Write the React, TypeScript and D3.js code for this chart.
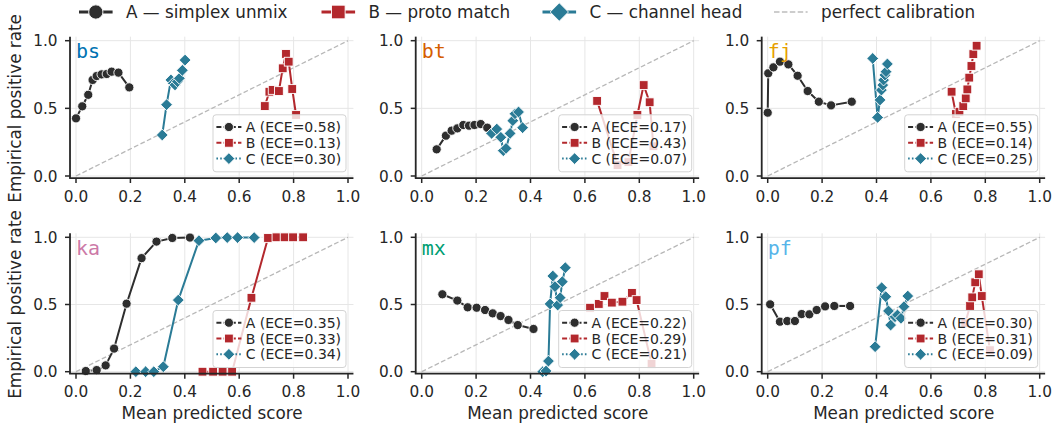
import React from "react";
import * as d3 from "d3";

// ---------- data ----------
const panelNames = ["bs", "bt", "fj", "ka", "mx", "pf"];
const panelColors = ["#0072B2", "#D55E00", "#E69F00", "#CC79A7", "#009E73", "#56B4E9"];
const seriesNames = ["A", "B", "C"];
const seriesLegend = ["A — simplex unmix", "B — proto match", "C — channel head"];
const xTicks = [0, 0.2, 0.4, 0.6, 0.8, 1.0];
const yTicks = [0, 0.5, 1.0];

// bs
const bsAx = [0.0, 0.023, 0.045, 0.061, 0.076, 0.094, 0.113, 0.131, 0.156, 0.196];
const bsAy = [0.426, 0.515, 0.6, 0.71, 0.739, 0.751, 0.754, 0.771, 0.764, 0.655];
const bsBx = [0.694, 0.711, 0.723, 0.746, 0.76, 0.772, 0.782, 0.795, 0.809];
const bsBy = [0.517, 0.623, 0.636, 0.628, 0.796, 0.902, 0.845, 0.643, 0.451];
const bsCx = [0.317, 0.333, 0.349, 0.358, 0.364, 0.373, 0.38, 0.391, 0.401];
const bsCy = [0.303, 0.527, 0.71, 0.685, 0.673, 0.697, 0.722, 0.781, 0.857];
const bsECE = [0.58, 0.13, 0.3];

// bt
const btAx = [0.055, 0.089, 0.11, 0.131, 0.153, 0.174, 0.194, 0.217, 0.241];
const btAy = [0.197, 0.298, 0.335, 0.352, 0.377, 0.372, 0.377, 0.384, 0.357];
const btBx = [0.645, 0.72, 0.76, 0.793, 0.816, 0.838, 0.852];
const btBy = [0.555, 0.081, 0.103, 0.451, 0.672, 0.545, 0.22];
const btCx = [0.257, 0.276, 0.291, 0.3, 0.31, 0.325, 0.335, 0.343, 0.356, 0.371];
const btCy = [0.315, 0.347, 0.286, 0.187, 0.204, 0.315, 0.409, 0.46, 0.473, 0.357];
const btECE = [0.17, 0.43, 0.07];

// fj
const fjAx = [0.0, 0.002, 0.021, 0.045, 0.076, 0.11, 0.147, 0.188, 0.233, 0.309];
const fjAy = [0.468, 0.759, 0.803, 0.845, 0.825, 0.741, 0.628, 0.549, 0.522, 0.549];
const fjBx = [0.676, 0.692, 0.705, 0.719, 0.728, 0.734, 0.741, 0.749, 0.756, 0.768];
const fjBy = [0.623, 0.458, 0.475, 0.517, 0.574, 0.64, 0.727, 0.813, 0.901, 0.963];
const fjCx = [0.386, 0.404, 0.413, 0.418, 0.423, 0.426, 0.431, 0.435, 0.44];
const fjCy = [0.869, 0.433, 0.562, 0.635, 0.672, 0.709, 0.746, 0.771, 0.828];
const fjECE = [0.55, 0.14, 0.25];

// ka
const kaAx = [0.036, 0.076, 0.109, 0.14, 0.186, 0.241, 0.296, 0.354, 0.419];
const kaAy = [0.005, 0.012, 0.047, 0.172, 0.506, 0.845, 0.968, 0.995, 0.998];
const kaBx = [0.465, 0.504, 0.539, 0.574, 0.645, 0.706, 0.737, 0.767, 0.798, 0.835];
const kaBy = [0.0, 0.0, 0.0, 0.0, 0.55, 0.995, 1.0, 1.0, 1.0, 1.0];
const kaCx = [0.22, 0.256, 0.286, 0.321, 0.376, 0.452, 0.514, 0.556, 0.594, 0.655];
const kaCy = [0.0, 0.0, 0.0, 0.037, 0.533, 0.975, 0.995, 0.998, 0.998, 0.998];
const kaECE = [0.35, 0.33, 0.34];

// mx
const mxAx = [0.076, 0.131, 0.169, 0.202, 0.233, 0.261, 0.29, 0.319, 0.353, 0.411];
const mxAy = [0.576, 0.529, 0.479, 0.476, 0.459, 0.434, 0.414, 0.385, 0.347, 0.318];
const mxBx = [0.619, 0.651, 0.672, 0.699, 0.738, 0.773, 0.79, 0.845];
const mxBy = [0.476, 0.504, 0.563, 0.514, 0.521, 0.586, 0.533, 0.06];
const mxCx = [0.445, 0.457, 0.466, 0.472, 0.482, 0.49, 0.5, 0.509, 0.517, 0.528];
const mxCy = [0.0, 0.005, 0.079, 0.504, 0.712, 0.633, 0.496, 0.551, 0.67, 0.774];
const mxECE = [0.22, 0.29, 0.21];

// pf
const pfAx = [0.009, 0.045, 0.072, 0.1, 0.125, 0.153, 0.18, 0.211, 0.245, 0.303];
const pfAy = [0.501, 0.372, 0.377, 0.377, 0.429, 0.427, 0.459, 0.486, 0.489, 0.489];
const pfBx = [0.726, 0.744, 0.752, 0.763, 0.776, 0.787, 0.817];
const pfBy = [0.36, 0.489, 0.553, 0.665, 0.725, 0.563, 0.16];
const pfCx = [0.395, 0.419, 0.434, 0.444, 0.452, 0.468, 0.477, 0.49, 0.501, 0.515];
const pfCy = [0.186, 0.625, 0.558, 0.452, 0.347, 0.409, 0.422, 0.397, 0.484, 0.563];
const pfECE = [0.3, 0.31, 0.09];

// ---------- assembled table ----------
const zip = (xs: number[], ys: number[]) => xs.map((x, i) => [x, ys[i]] as [number, number]);
const panelData = [
  { A: zip(bsAx, bsAy), B: zip(bsBx, bsBy), C: zip(bsCx, bsCy), ece: bsECE },
  { A: zip(btAx, btAy), B: zip(btBx, btBy), C: zip(btCx, btCy), ece: btECE },
  { A: zip(fjAx, fjAy), B: zip(fjBx, fjBy), C: zip(fjCx, fjCy), ece: fjECE },
  { A: zip(kaAx, kaAy), B: zip(kaBx, kaBy), C: zip(kaCx, kaCy), ece: kaECE },
  { A: zip(mxAx, mxAy), B: zip(mxBx, mxBy), C: zip(mxCx, mxCy), ece: mxECE },
  { A: zip(pfAx, pfAy), B: zip(pfBx, pfBy), C: zip(pfCx, pfCy), ece: pfECE },
];

// ---------- styles / layout ----------
const W = 1056;
const H = 429;
const FONT = "'DejaVu Sans', sans-serif";
const MONO = "'DejaVu Sans Mono', monospace";
const COLORS: Record<string, string> = { A: "#2e2e2e", B: "#b3282d", C: "#2a7b96" };
const TEXT = "#262626";
const COL_X0 = [76, 421.7, 767.7];
const UNIT_X = 272;
const ROW_Y0 = [176, 371.7];
const ROW_UNIT = [135.3, 134.4];
const XMIN = -0.022, XMAX = 1.02, YMIN = -0.015, YMAX = 1.03;

function Marker({ kind, x, y, color, scale = 1 }: { kind: string; x: number; y: number; color: string; scale?: number }) {
  const sw = 0.9;
  if (kind === "A") return <circle cx={x} cy={y} r={4.6 * scale} fill={color} stroke="#fff" strokeWidth={sw} />;
  if (kind === "B") {
    const s = 8.8 * scale;
    return <rect x={x - s / 2} y={y - s / 2} width={s} height={s} fill={color} stroke="#fff" strokeWidth={sw} />;
  }
  const h = 5.9 * scale;
  return (
    <path d={`M${x},${y - h}L${x + h},${y}L${x},${y + h}L${x - h},${y}Z`} fill={color} stroke="#fff" strokeWidth={sw} />
  );
}

function Panel({ idx }: { idx: number }) {
  const col = idx % 3;
  const row = Math.floor(idx / 3);
  const d = panelData[idx];
  const x = d3.scaleLinear().domain([0, 1]).range([COL_X0[col], COL_X0[col] + UNIT_X]);
  const y = d3.scaleLinear().domain([0, 1]).range([ROW_Y0[row], ROW_Y0[row] - ROW_UNIT[row]]);
  const xl = x(XMIN), xr = x(XMAX), yb = y(YMIN), yt = y(YMAX);
  const line = d3
    .line<[number, number]>()
    .x((p) => x(p[0]))
    .y((p) => y(p[1]));
  const legW = 133, legH = 57;
  const legR = x(0) + 270;
  const legB = y(0) - 4.2;
  const legL = legR - legW;
  const legT = legB - legH;
  const legMid = legT + legH / 2 - 0.5;
  const dashes: Record<string, string> = { A: "5,2.2", B: "5,2.2", C: "1.6,2.2" };
  return (
    <g>
      {xTicks.map((t) => (
        <line key={"gx" + t} x1={x(t)} x2={x(t)} y1={yt} y2={yb} stroke="#e6e6e6" strokeWidth={1} />
      ))}
      {yTicks.map((t) => (
        <line key={"gy" + t} x1={xl} x2={xr} y1={y(t)} y2={y(t)} stroke="#e6e6e6" strokeWidth={1} />
      ))}
      <line x1={x(0)} y1={y(0)} x2={x(1)} y2={y(1)} stroke="#b8b8b8" strokeWidth={1.3} strokeDasharray="4.8,2.4" />
      {seriesNames.map((s) => {
        const pts = (d as any)[s] as [number, number][];
        return (
          <g key={s}>
            <path d={line(pts) || ""} fill="none" stroke={COLORS[s]} strokeWidth={2} strokeLinejoin="round" />
            {pts.map((p, i) => (
              <Marker key={i} kind={s} x={x(p[0])} y={y(p[1])} color={COLORS[s]} />
            ))}
          </g>
        );
      })}
      <line x1={xl} x2={xl} y1={yt} y2={yb} stroke={TEXT} strokeWidth={1.8} />
      <line x1={xl - 0.9} x2={xr} y1={yb} y2={yb} stroke={TEXT} strokeWidth={1.8} />
      {xTicks.map((t) => (
        <g key={"tx" + t}>
          <line x1={x(t)} x2={x(t)} y1={yb} y2={yb + 5} stroke={TEXT} strokeWidth={1.5} />
          <text x={x(t)} y={y(0) + 25.5} textAnchor="middle" fontSize={15.3} fill={TEXT} fontFamily={FONT}>
            {t.toFixed(1)}
          </text>
        </g>
      ))}
      {yTicks.map((t) => (
        <g key={"ty" + t}>
          <line x1={xl - 5} x2={xl} y1={y(t)} y2={y(t)} stroke={TEXT} strokeWidth={1.5} />
          <text x={xl - 12.5} y={y(t)} dy="0.36em" textAnchor="end" fontSize={15.3} fill={TEXT} fontFamily={FONT}>
            {t.toFixed(1)}
          </text>
        </g>
      ))}
      <text x={x(0)} y={yt + 21.7} fontSize={20} fill={panelColors[idx]} fontFamily={MONO}>
        {panelNames[idx]}
      </text>
      <rect x={legL} y={legT} width={legW} height={legH} rx={3} fill="#fff" fillOpacity={0.8} stroke="#d3d3d3" strokeWidth={1} />
      {seriesNames.map((s, i) => {
        const cy = legMid + (i - 1) * 15.8;
        return (
          <g key={"lg" + s}>
            <line x1={legL + 3.4} x2={legL + 28.4} y1={cy} y2={cy} stroke={COLORS[s]} strokeWidth={2} strokeDasharray={dashes[s]} />
            <Marker kind={s} x={legL + 15.9} y={cy} color={COLORS[s]} />
            <text x={legL + 32.7} y={cy} dy="0.36em" fontSize={14} fill={TEXT} fontFamily={FONT}>
              {`${s} (ECE=${d.ece[i].toFixed(2)})`}
            </text>
          </g>
        );
      })}
      {row === 1 && (
        <text x={x(0.5)} y={419} textAnchor="middle" fontSize={16.8} fill={TEXT} fontFamily={FONT}>
          Mean predicted score
        </text>
      )}
      {col === 0 && (
        <text
          transform={`translate(21,${(y(0) + y(1)) / 2}) rotate(-90)`}
          textAnchor="middle"
          fontSize={16.8}
          fill={TEXT}
          fontFamily={FONT}
        >
          Empirical positive rate
        </text>
      )}
    </g>
  );
}

function TopLegend() {
  const starts = [79, 321.5, 542.5, 774];
  const cy = 12;
  const hl = 33.6;
  return (
    <g>
      {seriesNames.map((s, i) => (
        <g key={s}>
          <line x1={starts[i]} x2={starts[i] + hl} y1={cy} y2={cy} stroke={COLORS[s]} strokeWidth={3} />
          <Marker kind={s} x={starts[i] + hl / 2} y={cy} color={COLORS[s]} scale={1.55} />
          <text x={starts[i] + 47} y={cy} dy="0.36em" fontSize={16.8} fill={TEXT} fontFamily={FONT}>
            {seriesLegend[i]}
          </text>
        </g>
      ))}
      <line x1={starts[3]} x2={starts[3] + hl} y1={cy} y2={cy} stroke="#bdbdbd" strokeWidth={1.5} strokeDasharray="5.5,2.4" />
      <text x={starts[3] + 47} y={cy} dy="0.36em" fontSize={16.8} fill={TEXT} fontFamily={FONT}>
        perfect calibration
      </text>
    </g>
  );
}

export default function App() {
  return (
    <svg
      width={W}
      height={H}
      viewBox={`0 0 ${W} ${H}`}
      style={{ position: "absolute", left: 0, top: 0, display: "block", background: "#fff" }}
    >
      <rect width={W} height={H} fill="#fff" />
      {panelNames.map((_, i) => (
        <Panel key={i} idx={i} />
      ))}
      <TopLegend />
    </svg>
  );
}
